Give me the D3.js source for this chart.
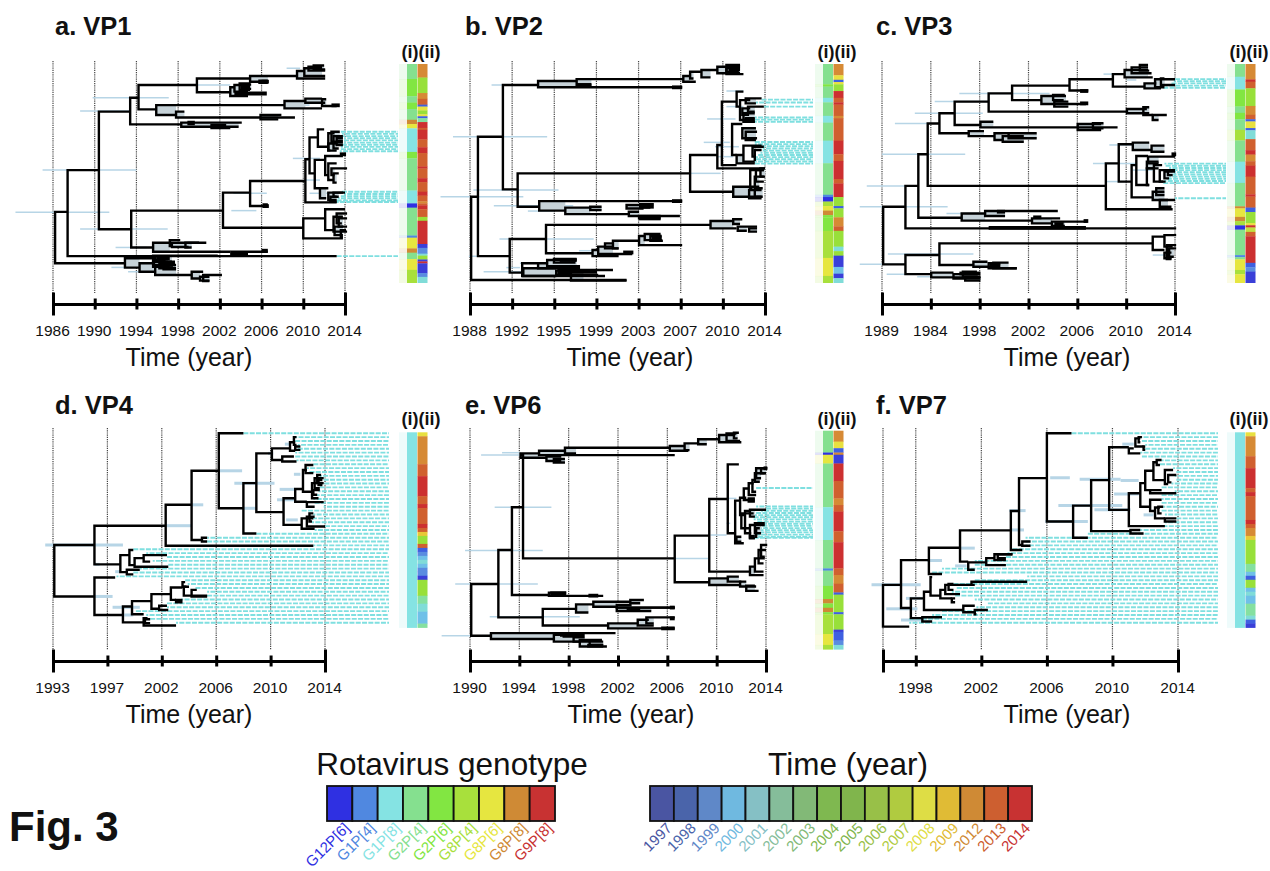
<!DOCTYPE html>
<html>
<head>
<meta charset="utf-8">
<script src="https://cdnjs.cloudflare.com/ajax/libs/d3/7.8.5/d3.min.js"></script>
<style>
	body { margin: 0; background: #fff; }
	text { font-family: "Liberation Sans", Arial, sans-serif; fill: #111; }
</style>
</head>
<body>
<svg id="fig" width="1270" height="871"></svg>
<script>
const genotypes = ["G12P[6]","G1P[4]","G1P[8]","G2P[4]","G2P[6]","G8P[4]","G8P[6]","G8P[8]","G9P[8]"];
const genotypeColors = ["#2f30e2","#5088e0","#85e3e3","#85e08f","#82e642","#a8e03c","#e6e640","#cf8a35","#c83232"];
const years = ["1997","1998","1999","2000","2001","2002","2003","2004","2005","2006","2007","2008","2009","2012","2013","2014"];
const yearColors = ["#4a55a2","#4a64aa","#5f88c8","#6fb9e0","#85c0c5","#85bd9a","#82b977","#7fb850","#80b54c","#98c048","#b0cb40","#dedd45","#e0bb35","#cf8a35","#cd5f30","#c83232"];
const yearStripColors = ["#3a3fd8","#3f60e0","#5a8ce0","#6fc0e8","#80dcd8","#85e0a0","#80e070","#80e040","#90e03c","#98e03a","#c0e040","#e8e040","#e8c838","#d68a35","#d0602f","#cc3030"];

// tree nodes: [time, top row, bottom row, top branch end, bottom branch end]
const vp1Nodes = [[1986.2,67.8,91.5,1987.4,1992.9],[1987.4,48.5,88.2,1990.4,2013.2],[1990.4,21.5,75.8,1993.4,1993.5],[1993.4,15.1,27.4,1994.2,1998.3],[1994.2,9.2,20.5,1999.8,1995.9],[1999.8,6.2,12.6,2004.9,2003],[2004.9,5.1,7.7,2009.4,2006.6],[2009.4,2.8,6.2,2010.1,2012.1],[2010.1,1.5,5.1,2011.8,2012.1],[2010.5,0.8,2.6,2011.8,2012.1],[2011,0.2,2,2012,2012.1],[2005.8,7.2,8.2,2006.6,2006.6],[2003,10.3,14.3,2003.4,2004.7],[2003.4,9.2,12.3,2004.9,2004.7],[2003.9,8.5,11.5,2004.9,2004.9],[2004.4,9,11,2005,2005],[2003.5,12.8,13.5,2006.5,2006.5],[1995.9,18.5,23.1,2008.2,1997.8],[2008.2,16.6,20,2010.2,2011.8],[2010.2,15.5,17.4,2011.8,2012.1],[2011.8,15.8,18.9,2012.2,2013.2],[1997.8,21.5,24.2,1998.6,2009.2],[2005.9,23.1,25.1,2007.9,2007.6],[1998.3,26.6,28.5,2004.1,2003.8],[1999,26.3,27.2,1999.6,1999.6],[2001.2,27.7,29.1,2002.6,2003],[1993.5,67.2,84.2,2002.3,1995.6],[2002.3,58.9,75.1,2004.9,2010],[2004.9,53.5,65.1,2010.2,2006.6],[2010.2,43.5,63.4,2010.6,2013.2],[2010.6,33.4,50,2011.4,2011.1],[2011.4,29.7,37.7,2012,2012.4],[2012.4,31.5,39.4,2013,2012.6],[2012.7,30.8,35.4,2013.5,2013.7],[2012.9,32.8,38.5,2013.8,2013.4],[2013.2,33.8,36.9,2013.8,2013.8],[2012.4,36.2,39.5,2013.2,2013.2],[2011.1,43.8,56.9,2012.1,2011.6],[2012.1,42,50.8,2013.8,2012.4],[2012.4,45.4,53.1,2013.2,2012.9],[2012.7,47.7,50.8,2014.2,2013],[2012.9,50,54.3,2013.4,2013.2],[2011.6,56.9,61.5,2012.4,2012.2],[2012.4,58.9,62.3,2014,2013.2],[2012.6,60.8,63.1,2013.2,2013.2],[2012.9,58.9,60.8,2013.8,2013.4],[2006.2,64.4,65.4,2006.6,2006.6],[2010,70.8,80,2012.1,2013.8],[2012.1,66.6,76.2,2014,2012.9],[2012.9,70,76.9,2013.8,2014.2],[2013.2,68.5,73.1,2014.2,2013.7],[2013.4,70.8,74.6,2014.2,2013.8],[2013,74.6,78.5,2014.2,2013.8],[2013.6,76.2,79.5,2014.1,2013.8],[1995.6,82,86.2,1997.2,2003],[1997.2,80.8,83.5,1998.2,1997.4],[1997.4,82,84,2000,1999],[1998.7,82,84.2,2000.7,1999.3],[2003.1,86.2,87.7,2006.6,2004.7],[1992.9,89.2,93.5,1995.6,1994.3],[1995.6,88,90.8,2001.8,1997.4],[1995.8,88.2,90,1996.9,1996.8],[1996.2,88.8,90.8,1997,1997],[1995.6,90.8,93.1,1997.7,1997.2],[1994.3,91.5,95.4,1995.8,1995.8],[1995.8,92.3,96.9,1997.8,1999.3],[1996.2,91.5,93.8,1997.7,1997.8],[1996.6,92.3,94.3,1997.7,1997.8],[1999.3,95.4,98.5,2000.4,2000.1],[2000.4,96.9,99.7,2002.2,2001],[2000.1,97.7,99.5,2001,2001]];
const vp2Nodes = [[1988.1,60.8,99.2,1988.7,2001.8],[1988.7,33.1,88.2,1990.9,1991.5],[1990.9,9.2,57.4,1994,1992.2],[1994,7.4,10.3,1997.4,2006.7],[1997.4,6.5,9.2,2006.8,1998.7],[2006.8,5.1,7.7,2007.4,2007.9],[2007.4,3.1,6.2,2008.4,2007.7],[2008.4,2.3,5.7,2009.8,2009.2],[2009.8,0.8,3.8,2010.6,2011.8],[2010.6,0,3.1,2011.8,2011.7],[2010.6,1.5,4.2,2011.8,2012.1],[2010.9,0.5,2.3,2011.8,2011.8],[1992.2,50,65.4,2007.4,1994.1],[2007.4,41.5,58.5,2009.8,2011.2],[2009.8,36.9,47.7,2010.2,2014],[2010.2,16.9,46.2,2011.5,2011.5],[2011.5,12.3,19.2,2012.1,2011.8],[2011.8,16.2,25.4,2012.7,2012.3],[2012.3,15.4,17.7,2013.7,2013.2],[2012.5,19.2,21.5,2013.9,2013.1],[2012.1,22.3,26.2,2013.1,2013.1],[2012,20,23,2012.7,2012.6],[2012.3,24.6,26.2,2013.1,2013.1],[2011.1,27.2,41.5,2012,2011.5],[2012,29.2,33.8,2013.2,2013.3],[2012.3,30.8,34.6,2013.3,2013.2],[2011.5,41.5,45.4,2012.1,2013.1],[2012.1,37.2,44.6,2013.7,2013.1],[2012.9,37.7,42.3,2013.9,2013.2],[2013.1,39.2,43.8,2013.7,2013.2],[2011.2,56.2,60.8,2013.1,2013.7],[2012.7,48.5,56.9,2013.9,2012.9],[2013.2,48.5,53.8,2013.9,2013.9],[2013.1,51.5,56.2,2013.9,2013.5],[2013.6,47.7,51.5,2014,2014],[2012.6,57.7,61.5,2013.7,2013.7],[2013.1,56.9,60.8,2013.8,2013.8],[1994.1,62.8,67.2,2006.7,1996.4],[1996.4,65.8,68.8,1998.6,2002],[1998.6,65.4,66.9,1999.6,1999.6],[2001.8,64.6,66.2,2004,2003.3],[2003,64.2,65.8,2004.2,2003.9],[2002,67.7,69.7,2002.9,2006.5],[2002.9,69.7,70.8,2004.8,2004.8],[1991.5,80.3,95.8,1994.7,1992.6],[1994.7,73.8,86.9,2009.2,1998.8],[2009.2,72,75.4,2011.2,2011.5],[2011.2,71.2,73.4,2012,2011.8],[2011.6,74.6,76.5,2013.3,2012.4],[2012.6,75.4,76.9,2013.3,2013.3],[1998.8,85.4,88.2,1999.3,2001.1],[1999.3,83.8,87.2,2000.6,2002.3],[1999.9,82.3,84.6,2000.6,2001.1],[2000.6,81.1,84.6,2002.9,2001.1],[2002.9,78.9,83.1,2003.4,2006.7],[2003.4,78,80.8,2004.8,2004.9],[2003.9,78.9,81.1,2004.9,2005],[1992.6,91.5,97.4,1994,1995.6],[1994,91.5,93.8,1994.8,1997.7],[1994.8,90,92.8,1997.4,1997.7],[1995.4,89.5,91.2,1997.4,1997.3],[1992.7,93.8,97.4,1995.6,1999.9],[1995.6,94.9,96.9,1998,1999.3],[1995.8,94.6,96.2,2000.6,1997],[1996.9,96.9,99.5,1998,2001.8]];
const vp3Nodes = [[1989.1,65.4,92,1991,1991],[1991,55.8,75.4,1992.1,2014.1],[1992.1,41.2,70.5,1992.9,1995.8],[1992.9,27,55.8,1993.9,2008.1],[1993.9,22.3,31.5,1995.2,1996.4],[1995.2,16.9,27.7,1998.1,1997.4],[1998.1,13.1,21.5,2000.1,2009.9],[2000.1,9.5,16.2,2005,2002.6],[2005,6.6,11.8,2008.7,2006.6],[2008.7,4.2,10,2009.7,2011.4],[2009.7,2.3,5.7,2011.7,2012.1],[2010.3,1.1,3.8,2011.7,2012],[2011,0,2.6,2011.7,2011.8],[2011.4,8.5,10.8,2012.4,2012.8],[2012.3,6.6,10.3,2014,2013.1],[2012.8,6.2,9.2,2013.1,2014],[2002.6,14.3,18,2004.7,2006.4],[2003.6,13.8,16.2,2004.6,2004.5],[2003.7,16.9,19.2,2004.9,2004.9],[2009.9,20.3,22.3,2011.6,2011.8],[2011.3,19.5,23.1,2011.8,2012.1],[2012.1,23.1,25.4,2013.3,2012.6],[1997.4,26.2,28.8,1998.5,2009.1],[2005.7,27.2,30,2007.7,2007.7],[2007,26.9,29.2,2007.9,2007.9],[1996.4,30.5,32.8,1997.7,1998.6],[1998.6,31.5,34.6,1999.8,1999.3],[1999.8,31.5,33.8,2002.2,2002.2],[1999.3,32.8,35.4,2001.1,2001.1],[2008.1,45.4,66.6,2009.2,2013.8],[2009.2,36.6,53.8,2010.4,2010.3],[2010.4,35.8,39.2,2011.8,2012],[2012,37.2,40,2013.1,2013.1],[2010.3,46.2,61.1,2010.7,2012.1],[2010.7,42,55.4,2011.7,2011.8],[2011.7,42.3,45.4,2014,2012.6],[2011.6,44.6,47.7,2012.6,2012.6],[2011.6,47.7,55.4,2012.2,2011.8],[2012.2,46.2,53.8,2012.9,2013.2],[2012.7,48.5,53.8,2014,2013],[2013.1,49.2,52.3,2014,2013.5],[2013.4,48.5,50.8,2014,2013.8],[2012.1,58.5,62.3,2013.1,2014],[2012.4,56.9,60,2013.1,2013.1],[2012.7,62.3,65.4,2013.4,2013.7],[1995.8,68.5,71.8,1997.8,2001.8],[1997.8,67.4,69.7,2004,1999.5],[2001.8,70.8,73.1,2004.2,2003.5],[2003.5,72.3,74.3,2006.5,2004.6],[1991,87.7,96.5,1993.9,1993.2],[1993.9,82.3,92.3,2012.1,1996.8],[2012.1,79.2,85.4,2013.1,2013.1],[2013.1,78.5,83.8,2014.1,2013.8],[2013.3,83.1,89.5,2014.1,2013.7],[2013.5,84.6,88.5,2014.1,2013.9],[2013.1,86.6,89.2,2013.7,2013.7],[1996.8,90.8,93.1,1998,1998.9],[1998.1,91.5,93.8,1999.1,2000.5],[1998.5,91.2,93.8,1999.8,2000.5],[1993.2,95.8,98,1995.1,1997.4],[1995.1,96.5,98.5,1997.1,1997.4],[1995.9,95.4,97.7,1997.1,1997.2],[1996.1,97.7,99.5,1997.4,1997.4]];
const vp4Nodes = [[1993.1,28.9,42.2,1996.2,1996.2],[1996.2,23.9,33.9,2001.7,1998.2],[2001.7,18.5,29.1,2003.7,2013.1],[2003.7,9.7,27.6,2005.8,2004.5],[2005.8,0,19.4,2007.7,2007.7],[2007.7,12.9,25.9,2008.7,2008.7],[2008.7,5.2,20.4,2009.9,2010.8],[2009.9,3.9,6.9,2011.3,2010.7],[2011.3,2.3,4.5,2011.7,2011.7],[2011.6,1,3,2011.8,2011.8],[2011.7,3.4,4.3,2012.1,2012.1],[2010.7,6,7.3,2011.6,2011.8],[2010.8,16.8,23.7,2011.7,2012.2],[2011.7,14.4,17.7,2012.3,2012.6],[2012.3,9.5,15.1,2012.6,2013],[2012.5,8.2,10.3,2013.1,2013.1],[2013,12.9,16.8,2013.4,2013.5],[2013.2,11.6,14.2,2013.9,2013.6],[2013.4,10.8,12.9,2013.7,2013.9],[2013.5,12.1,13.4,2013.8,2013.8],[2013.1,14.7,15.9,2013.6,2013.4],[2012.6,17.8,19,2013.9,2013.2],[2012.2,22,24.7,2013.1,2013.2],[2012.6,21.6,24.1,2013.2,2014],[2012.8,20.7,22.8,2013.1,2013],[2004.5,27,28,2004.9,2004.9],[1998.2,31.5,35.9,1998.9,1998.7],[1998.9,30.2,34.1,1999.2,1999.3],[1999.3,32.3,34.5,2000,2001.9],[2000,31.5,33.2,2001.8,2000.5],[1998.7,35.3,36.5,1999.7,1999.2],[1996.2,37.3,47,1997.8,1998.4],[1998.4,44.8,48.9,1999.1,2000],[1999.1,43.4,46.8,2000.6,2000],[2000.6,41.6,45.4,2002.1,2001.2],[2002.1,39.9,43.1,2003,2002.5],[2003,38.5,39.7,2003.2,2003.3],[2003.1,39.7,42,2003.5,2004.9],[2003.7,40.5,42.2,2004.1,2004.9],[2002.5,43.1,43.7,2003,2003],[2001.2,44.6,45.7,2001.8,2001.9],[2000,47.8,49.7,2000.3,2002.5],[2000.1,48.1,49.1,2000.5,2000.5]];
const vp6Nodes = [[1990.1,70.3,94.2,1992.3,1991.7],[1992.3,54.6,85.7,1993.4,1995.9],[1993.4,34.9,75.4,1994.3,1996.4],[1994.3,10.8,58.5,1994.1,2006.6],[1994.1,10,12,1995.6,1996.2],[1995.6,8.8,10.8,1997.7,2006.6],[1997.7,7.4,10,2006.2,1998.6],[2006.2,6.6,8.8,2007.4,2007.7],[2007.4,5.4,8.5,2008.5,2007.8],[2008.5,3.5,5.8,2010.2,2009.2],[2010.2,1.5,4.9,2011.5,2012],[2010.8,0.8,4.3,2011.6,2011.9],[2011.4,0.5,3.1,2011.8,2011.7],[1996.2,11.5,13.5,1997.4,1997.4],[1996.8,12.6,14.2,1997.7,1997.7],[2006.6,48,69.5,2009.4,2009.4],[2009.4,31.1,64.6,2010.9,2012.7],[2010.9,15.1,46.9,2011.8,2011.5],[2011.5,31.8,51.5,2011.9,2012.2],[2011.9,30.5,38.5,2012.4,2012.3],[2012.2,26.2,31.5,2012.6,2013.1],[2012.6,23.8,29.2,2013,2013.2],[2012.9,22.3,27.7,2013.1,2013.2],[2013.1,19.2,23.1,2013.9,2013.5],[2013.2,16.9,21.5,2014.1,2013.6],[2013.6,16.9,19.2,2014.1,2014],[2012.6,30.8,32.3,2013.1,2013.1],[2011.6,48.5,50.8,2012,2012],[2012,37.7,44.6,2013,2012.7],[2012.3,36.6,46.9,2012.7,2012.8],[2012.7,36,39.2,2014,2013.1],[2012.7,43.1,49.2,2013.9,2013.1],[2013.1,42.3,46.9,2013.9,2013.6],[2013.2,44.6,48.5,2013.5,2013.1],[2012.7,62.3,66.2,2013.1,2013.8],[2013.1,58.5,64.6,2013.9,2013.8],[2013.4,54.6,60.8,2014,2013.8],[2013.6,52.3,57.7,2014.1,2013.9],[2009.4,67.7,70.8,2010.9,2011.9],[2010.9,66.9,69.2,2011.8,2012],[2011.9,69.2,71.5,2012.4,2013.2],[2012.4,71.1,73.5,2013.1,2013.4],[1996.4,74.3,75.8,1997.8,2000.8],[1995.9,81.8,89.5,1998.6,2001.2],[1998.6,79.7,83.5,2000,1999.6],[2000,78.5,80.8,2003,2001.9],[2003,77.7,79.2,2004.1,2003.8],[2001.9,80,81.2,2003.1,2006.6],[2001.9,81.2,82.8,2006.6,2004.7],[2001.2,88.5,90.8,2003.6,2006.6],[2003.6,86.8,89.5,2004.5,2004.9],[2004.3,85.7,88.5,2006.6,2004.9],[1991.7,93,95.7,2001.8,1996.8],[1996.8,93.8,96.9,1999.3,1998.9],[1997.6,93.1,94.6,1998.5,1998.5],[1998.9,96.2,99.2,2000.7,2001.1],[1998.4,94.9,96.9,1999.3,1999.7],[1999.7,96.9,98.5,2000.8,2000.8]];
const vp7Nodes = [[1996,39.2,50,1997.1,1997.6],[1997.1,32.8,45.2,1998.8,1997.7],[1998.8,29.6,36.4,2000.7,1999.6],[2000.7,25.1,33.2,2003.8,2001.2],[2003.8,20.1,30.2,2004.3,2004.5],[2004.3,11.6,28.9,2006,2004.5],[2006,0,22.8,2007.5,2007.6],[2007.6,18.7,27,2008.7,2008.5],[2008.7,12.1,25.3,2009.8,2011.1],[2009.8,3.6,19.8,2011,2011],[2011,3.9,5.2,2011.3,2011.7],[2011.4,1.3,3.4,2011.7,2011.9],[2011.6,1,2.3,2011.8,2011.7],[2011.9,3.4,4.3,2012,2012],[2011,15.5,24,2011.7,2013.2],[2011.7,12.9,19,2012,2012.3],[2012,9.7,14.7,2012.5,2012.3],[2012.5,7.5,12.1,2012.7,2013.2],[2012.7,6.9,8.2,2013,2012.9],[2013.2,9.5,13.1,2013.7,2013.4],[2013.4,10.8,12.7,2013.9,2013.6],[2012.3,14.7,15.5,2013,2013.9],[2012.3,17.2,20.1,2013,2012.6],[2012.6,19.2,22,2012.9,2013.2],[2013.2,22,22.8,2013.9,2013.9],[2012.8,19,20.7,2013.1,2013],[2011.1,25,25.9,2011.7,2011.9],[2004.5,28,29.1,2005,2005],[2001.2,33.4,35.3,2002.3,2001.6],[2002.3,32.3,34.1,2002.8,2003.5],[2002.8,31.3,32.8,2003.9,2003.5],[2003,31.3,32.3,2003.9,2003.5],[1997.7,42.7,47.8,1998.5,1998.4],[1998.5,41,45.7,1998.9,2000.9],[1998.9,37.2,42,1999,1999.5],[1999.5,40.5,42.7,1999.8,2000.2],[1999.8,39.2,41.6,2001.4,2000.7],[2000,39,40.5,2000.3,2000.3],[2001.4,38.4,39.2,2004.8,2001.6],[2000.2,42.7,43.7,2000.4,2000.4],[2000.9,44.6,46.3,2001.6,2001.6],[2001.6,45.7,46.8,2002.4,2001.7],[1998.4,47.6,48.7,1999.6,1999]];

// thick clumps of tips: [start, end, row]
const vp1Clumps = [[2006,2006.7,7.7],[2006.3,2006.7,65.1],[2012.7,2013.5,18.6],[2013.5,2014.1,41.2],[2006,2006.6,85.7],[2003.1,2004.7,87.4],[1995.9,1997.2,89.2],[2004,2004.9,10.3],[2001.2,2002.6,28.2],[1996.6,1997.5,92.3],[2013.2,2013.8,35.4]];
const vp2Clumps = [[2005.8,2006.7,10.3],[2005.8,2006.7,62.8],[2003,2004.2,65.4],[2002.9,2004.8,70.8],[1995.9,1997.4,90],[1995.8,1999.2,95.4],[2010.6,2011.8,0.8],[1997.4,1998.7,9.2],[2012.2,2013.1,25.4],[2004,2004.9,80],[2001.5,2002.4,86.5]];
const vp3Clumps = [[2005.9,2006.6,12],[2005.9,2006.6,17.7],[2013.7,2014.1,41.2],[1998.1,2006.4,75.2],[1998.8,1999.5,67.7],[2001.9,2002.6,70.3],[1995.6,1997.4,96.2],[1998.2,1999.1,92.6],[2003.7,2004.5,73.4],[2006.2,2006.6,72]];
const vp4Clumps = [];
const vp6Clumps = [[1996.5,1997.8,74.6],[1999.6,2000.4,75.7],[2006.2,2006.6,81.2],[2005.5,2006.6,90.8],[2006.2,2006.6,86.2],[2002.7,2003.8,82.3],[1997.3,1998.2,93.8],[1999.5,2000.8,98.8],[2013.8,2014.1,16.9],[2012.6,2013.1,48.5]];
const vp7Clumps = [];

// credible interval bars: [start, end, row]
const vp1Hpd = [[1982.4,1991.4,68],[1985,1994,48.5],[1989.8,1997.1,15.1],[1988.6,1993.4,21.2],[1988.6,1997,75.7],[1992,1995,84.2],[2009,2011.6,43.1],[2003.1,2005.5,67.2],[2003.3,2006.5,59.2],[1999.8,2003,9.2],[2008.6,2010.6,18.5],[1991.6,1994.3,93.4],[1993.2,1994.3,95.4],[2008.4,2009.7,1.5],[1996.2,1997.8,20.8],[2010.6,2013.2,59.2],[2010.2,2011.6,53.1]];
const vp2Hpd = [[1986.5,1994.8,33.1],[1985.4,1992.7,60.8],[1988.3,1995.8,57.7],[1989.9,1993.9,9.2],[1990.1,1997.1,65],[1993.1,1995.4,67.4],[1990.6,1998.9,80.3],[1987.9,1991.2,88.2],[1989.2,1993,95.4],[1991.2,1992.4,93.5],[1992.4,1994.2,91.5],[1997.6,1999.2,85.7],[2002.9,2003.8,79.2],[2007.4,2010.1,50],[2010.6,2012.1,12],[2008.9,2011.4,24.9],[2008.6,2010.9,35.7],[2009.6,2011.7,37.7],[2010.6,2012.1,19.2],[2009.8,2011.2,42.3],[2011.4,2013.3,58.5]];
const vp3Hpd = [[1987.1,1994.6,65.4],[1989,1996.1,41.2],[1987.7,1991,55.8],[1990.1,1993,27],[1991.8,1997.6,22.3],[1993.5,1998.1,16.9],[1995.6,2003.3,13.1],[1994.5,1997.4,68.5],[1989.5,1996.8,87.2],[1987.1,1991,92],[1989.4,1992.1,96.6],[1992,1993.7,97.7],[2007,2010.7,45.4],[2008.4,2010.7,36.9],[2007.9,2009.9,4.2],[2009.9,2010.7,6.9],[2012.1,2013.3,87.7],[2010.4,2012.1,48.5],[2008.1,2009.9,53.8]];
const vp4Hpd = [[1992.4,1998.4,28.9],[2005.8,2007.6,9.7],[2007,2010.1,12.9],[2003.7,2004.6,18.5],[2001.7,2003.7,23.9],[2007.7,2008.7,19.4],[2010.5,2011.7,14.5],[2010.3,2011.7,17.2],[2011,2011.9,22.4],[2009.6,2010,5.2],[2010.9,2011.3,2.8],[2011.6,2012.1,10.6],[1997.6,1999.7,45],[1998.5,1999.2,47],[1996.2,1997.6,42.2],[1996.2,1996.6,33.9],[1997.8,1998.2,35.8]];
const vp6Hpd = [[1988.8,1995.5,70.3],[1989.6,1995.9,54.9],[1992,1996.6,34.9],[1990.9,1995.4,10.8],[1992.6,1994.1,9.7],[1991.6,1998.9,85.4],[1987.7,1990,94.2],[1991.6,1994.7,93.8],[2006.6,2009.3,58.5],[2009.5,2010.8,47.7],[2010.8,2011.6,30.8],[2011.4,2011.6,38.5],[2010.8,2011.1,42.3],[1995.7,1997,94.6]];
const vp7Hpd = [[1995.3,1998.3,39.2],[1996.2,1998.1,45.4],[1997.1,1998.4,48.3],[1997.4,1998.4,42.7],[1998.7,1999.6,32.9],[2000.4,2001.1,34.3],[2000.7,2001.6,29.7],[2003.7,2004.7,20],[2003.8,2004.6,25],[2006.2,2007.4,11.5],[2008,2010.5,11.9],[2006.7,2010.6,18.7],[2008.9,2011.1,19.8],[2005.9,2008.5,22.8],[2010.1,2011.6,15.7],[2010.5,2011.6,12.2],[2010.6,2011.3,2.8],[2011.9,2012.5,21.1]];

// dashed leader lines: [row, tip time]
const vp1Dashes = [[30.8,2013.6],[31.8,2013.7],[32.8,2013.5],[33.8,2013.9],[34.8,2013.9],[35.8,2013.9],[36.8,2013.7],[37.8,2013.6],[38.8,2013.6],[39.8,2013.5],[58.5,2013.7],[59.5,2013.9],[60.5,2013.6],[61.5,2013.3],[62.5,2013.2],[63.2,2013.2],[88.2,2013.2]];
const vp2Dashes = [[16,2013.7],[17.3,2013.2],[19.2,2013.9],[24.2,2013.1],[25.2,2013.1],[26.2,2013.1],[35.5,2013.1],[36.5,2013.1],[37.5,2013.6],[38.5,2013.8],[39.5,2013.8],[40.5,2013.6],[41.5,2013.4],[42.5,2013.2],[43.5,2013.2],[44.5,2013.1],[45.5,2013.1]];
const vp3Dashes = [[6.5,2014],[7.5,2013.9],[8.5,2013.7],[9.5,2013.2],[10.5,2013],[45.5,2013.1],[46.5,2013.2],[47.5,2013.5],[48.5,2013.8],[49.5,2013.9],[50.5,2013.7],[51.5,2013.5],[52.5,2013.3],[53.5,2013.1],[54.5,2013],[61.5,2014]];
const vp4Tips = [2007.7,2011.7,2011.7,2011.9,2011.9,2011.7,2011.7,2011.8,2013.1,2012.6,2012.8,2013.6,2013.9,2013.7,2013.6,2013.5,2013.2,2013.1,2013.2,2013.9,2012.2,2013.1,2013,2013,2014,2013.2,2008.7,2004.9,2004.9,2013.1,1999.2,2000.2,2001.8,2000.7,2001.9,1999.7,1999.2,1997.9,2003.2,2003.4,2004,2004.9,2004.9,2002.9,2001.8,2001.8,1999.4,2000.2,2000.5,2002.5];
const vp6Dashes = [[26,2013.2],[34.5,2013.2],[35.5,2014],[36.5,2013.6],[37.5,2013.2],[38.5,2013.1],[39.5,2013],[40.5,2013],[41.5,2013.3],[42.5,2013.9],[43.5,2013.7],[44.5,2013.5],[45.5,2013.4],[46.5,2013.2],[47.5,2013.1],[48.5,2013.1],[49,2013]];
const vp7Tips = [2007.5,2011.7,2011.8,2012,2012,2011.7,2011.8,2013,2012.9,2013.7,2013.9,2013.8,2013.9,2013.6,2013,2013.8,2013,2013,2013,2013.1,2013,2013.2,2013.9,2013.2,2011.9,2011.7,2008.5,2004.7,2004.7,2004.7,2003.9,2003.6,2003.5,2001.6,2001.6,1999.6,1999,2004.8,2001.6,2000.1,2000.5,2000.2,2000.4,2001.6,2002.4,2001.7,1999.6,1999,1997.6,1997.6];

// strips as runs: [category index, number of samples]
const vp1Genotype = [[3,7],[4,8],[3,3],[4,3],[3,5],[7,2],[6,2],[2,11],[4,3],[3,15],[2,6],[0,2],[3,13],[1,1],[6,5],[7,2],[3,3],[6,5],[5,6]];
const vp1Year = [[13,7],[9,8],[13,3],[14,3],[1,1],[11,2],[9,2],[11,1],[1,1],[5,2],[15,3],[14,1],[15,5],[14,4],[15,3],[14,7],[15,1],[14,5],[15,2],[14,5],[15,2],[14,3],[13,1],[14,1],[15,2],[14,4],[9,2],[15,12],[0,2],[2,3],[4,1],[9,2],[0,1],[15,1],[0,5],[2,2],[4,3]];
const vp2Genotype = [[3,9],[4,1],[3,5],[2,2],[3,6],[2,3],[3,8],[2,10],[3,14],[1,1],[0,2],[5,2],[6,2],[7,2],[4,1],[4,6],[5,12],[6,8],[5,3]];
const vp2Year = [[13,5],[11,2],[1,1],[11,1],[9,3],[15,3],[14,2],[15,1],[14,5],[13,1],[14,10],[15,6],[14,3],[15,8],[14,2],[15,6],[9,4],[1,1],[9,4],[13,4],[14,2],[9,7],[4,2],[9,2],[0,5],[3,3],[0,2],[4,2]];
const vp3Genotype = [[3,6],[2,6],[4,8],[3,3],[4,3],[3,5],[5,5],[3,10],[2,10],[3,11],[7,1],[6,4],[7,2],[5,2],[0,2],[3,12],[1,1],[3,1],[6,5],[5,2],[6,4]];
const vp3Year = [[13,7],[15,1],[14,3],[9,8],[13,4],[14,2],[1,1],[11,3],[1,1],[4,4],[14,5],[15,2],[13,3],[14,2],[15,5],[14,8],[15,1],[14,5],[1,2],[9,5],[11,1],[15,1],[10,2],[14,2],[15,12],[1,2],[2,2],[0,5]];
const vp4Year = [[11,1],[13,7],[14,3],[15,5],[14,2],[15,1],[14,4],[15,1],[14,1],[12,1],[9,2],[14,1],[1,1],[2,1],[3,1],[4,1],[3,1],[2,1],[2,1],[0,1],[9,4],[5,2],[4,2],[3,3],[5,1]];
const vp6Genotype = [[3,10],[0,1],[6,4],[3,20],[2,15],[3,13],[1,1],[3,7],[4,6],[7,2],[4,2],[7,2],[4,1],[5,9],[6,5],[5,2]];
const vp6Year = [[13,5],[11,3],[1,2],[13,1],[0,4],[15,8],[14,8],[13,3],[14,3],[15,9],[14,5],[15,12],[14,3],[13,4],[14,4],[1,1],[9,8],[1,1],[9,7],[0,1],[1,4],[2,2],[4,2]];
const vp7Year = [[11,1],[13,5],[14,3],[15,5],[14,1],[15,1],[14,6],[15,1],[14,1],[13,2],[12,1],[9,6],[5,2],[3,1],[1,1],[9,2],[3,1],[4,1],[3,2],[5,3],[4,1],[1,1],[0,1]];
const allG1P8 = [[2,50]];

const vp1Ticks = ["1986","1990","1994","1998","2002","2006","2010","2014"];
const vp2Ticks = ["1988","1992","1995","1999","2003","2007","2010","2014"];
const vp3Ticks = ["1989","1984","1998","2002","2006","2010","2014"];
const vp4Ticks = ["1993","1997","2002","2006","2010","2014"];
const vp6Ticks = ["1990","1994","1998","2002","2006","2010","2014"];
const vp7Ticks = ["","1998","2002","2006","2010","2014"];
const vp7TickYears = [1996,1998,2002,2006,2010,2014];

const panels = [
	{title:"a. VP1",titleX:55,titleY:35,timeX:189,nodes:vp1Nodes,clumps:vp1Clumps,hpd:vp1Hpd,dashes:vp1Dashes,gt:vp1Genotype,yr:vp1Year,ticks:vp1Ticks,span:[1986,2014],px:[53,345],rows:[100,65,281.7],headY:52,gridTop:61,axisY:304,stripX:407,dashEnd:398,hpdW:1.5},
	{title:"b. VP2",titleX:465,titleY:35,timeX:630,nodes:vp2Nodes,clumps:vp2Clumps,hpd:vp2Hpd,dashes:vp2Dashes,gt:vp2Genotype,yr:vp2Year,ticks:vp2Ticks,span:[1988,2014],px:[470,765],rows:[100,65,281.7],headY:52,gridTop:61,axisY:304,stripX:823,dashEnd:813,hpdW:1.5},
	{title:"c. VP3",titleX:876,titleY:35,timeX:1067,nodes:vp3Nodes,clumps:vp3Clumps,hpd:vp3Hpd,dashes:vp3Dashes,gt:vp3Genotype,yr:vp3Year,ticks:vp3Ticks,span:[1989,2014],px:[882,1175],rows:[100,65,281.7],headY:52,gridTop:61,axisY:304,stripX:1235,dashEnd:1226,hpdW:1.5},
	{title:"d. VP4",titleX:55,titleY:414,timeX:189,nodes:vp4Nodes,clumps:vp4Clumps,hpd:vp4Hpd,dashes:vp4Tips.map((t,i)=>[i,t]),gt:allG1P8,yr:vp4Year,ticks:vp4Ticks,span:[1993,2014],px:[53,325],rows:[50,433.3,626.6],headY:419,gridTop:428,axisY:661,stripX:407,dashEnd:389,hpdW:3},
	{title:"e. VP6",titleX:465,titleY:414,timeX:631,nodes:vp6Nodes,clumps:vp6Clumps,hpd:vp6Hpd,dashes:vp6Dashes,gt:vp6Genotype,yr:vp6Year,ticks:vp6Ticks,span:[1990,2014],px:[470,766],rows:[100,431.7,648.3],headY:419,gridTop:428,axisY:661,stripX:823,dashEnd:813,hpdW:1.5},
	{title:"f. VP7",titleX:876,titleY:414,timeX:1067,nodes:vp7Nodes,clumps:vp7Clumps,hpd:vp7Hpd,dashes:vp7Tips.map((t,i)=>[i,t]),gt:allG1P8,yr:vp7Year,ticks:vp7Ticks,tickYears:vp7TickYears,span:[1996,2014],px:[883,1178],rows:[50,433.3,626.6],headY:419,gridTop:428,axisY:661,stripX:1235,dashEnd:1218,hpdW:3}
];

const svg = d3.select("#fig");

function drawStrip(g, runs, x, w, yTop, yBot, colors, opacity){
	const ends = d3.cumsum(runs, d => d[1]);
	const y = d3.scaleLinear([0, ends[ends.length-1]], [yTop, yBot]);
	g.selectAll(null).data(runs).join("rect")
		.attr("x", x).attr("width", w)
		.attr("y", (d,i) => y(ends[i]-d[1]))
		.attr("height", d => y(d[1])-y(0)+0.3)
		.attr("fill", d => colors[d[0]])
		.attr("opacity", opacity);
}

panels.forEach(p => {
	const g = svg.append("g");
	const x = d3.scaleLinear(p.span, p.px);
	const y = d3.scaleLinear([0, p.rows[0]], [p.rows[1], p.rows[2]]);
	const n = p.ticks.length;
	const tickVals = p.tickYears || d3.range(n).map(i => p.span[0]+(p.span[1]-p.span[0])*i/(n-1));

	g.append("text").text(p.title)
		.attr("x", p.titleX).attr("y", p.titleY)
		.attr("font-size", 25.5).attr("font-weight", "bold");
	g.append("text").text("(i)(ii)")
		.attr("x", p.stripX+14).attr("y", p.headY+6).attr("text-anchor", "middle")
		.attr("font-size", 18).attr("font-weight", "bold");

	// dotted year grid
	g.selectAll(null).data(tickVals).join("line")
		.attr("x1", d => x(d)).attr("x2", d => x(d))
		.attr("y1", p.gridTop).attr("y2", p.axisY-11)
		.attr("stroke", "#444").attr("stroke-width", 1.2).attr("stroke-dasharray", "1.2 1");

	g.selectAll(null).data(p.hpd).join("line")
		.attr("x1", d => x(d[0])).attr("x2", d => x(d[1]))
		.attr("y1", d => y(d[2])).attr("y2", d => y(d[2]))
		.attr("stroke", "#b7d5e6").attr("stroke-width", p.hpdW);

	g.selectAll(null).data(p.dashes).join("line")
		.attr("x1", d => x(d[1])).attr("x2", p.dashEnd)
		.attr("y1", d => y(d[0])).attr("y2", d => y(d[0]))
		.attr("stroke", "#7fdfe0").attr("stroke-width", 1.9)
		.attr("stroke-dasharray", "5 1.3")
		.attr("stroke-dashoffset", (d,i) => i%2*3);

	// narrow elbows read as grey boxes, only the overlap between both branches
	if(p.hpdW < 2){
		g.selectAll(null).data(p.nodes.filter(d => d[2]-d[1] < 5)).join("rect")
			.attr("x", d => x(d[0]))
			.attr("width", d => x(Math.min(d[3],d[4]))-x(d[0]))
			.attr("y", d => y(d[1]))
			.attr("height", d => y(d[2])-y(d[1]))
			.attr("fill", "#c6d2d8");
	}
	const elbow = d => `M${x(d[3])},${y(d[1])}H${x(d[0])}V${y(d[2])}H${x(d[4])}`;
	g.selectAll(null).data(p.nodes).join("path")
		.attr("d", elbow)
		.attr("fill", "none").attr("stroke", "#000").attr("stroke-width", 2.4);
	g.selectAll(null).data(p.clumps).join("line")
		.attr("x1", d => x(d[0])).attr("x2", d => x(d[1]))
		.attr("y1", d => y(d[2])).attr("y2", d => y(d[2]))
		.attr("stroke", "#000").attr("stroke-width", 3.8);

	drawStrip(g, p.gt, p.stripX-8, 8, p.rows[1]-1, p.rows[2]+1, genotypeColors, 0.14);
	drawStrip(g, p.gt, p.stripX, 10, p.rows[1]-1, p.rows[2]+1, genotypeColors, 1);
	drawStrip(g, p.yr, p.stripX+10.5, 10, p.rows[1]-1, p.rows[2]+1, yearStripColors, 1);

	// time axis
	const axis = d3.axisBottom(x).tickValues(tickVals).tickSizeOuter(0)
		.tickFormat((d,i) => p.ticks[i]);
	const ag = g.append("g").attr("transform", `translate(0,${p.axisY})`).call(axis);
	ag.select(".domain").attr("stroke", "#000").attr("stroke-width", 3);
	ag.selectAll(".tick line").attr("stroke", "#000").attr("stroke-width", 3)
		.attr("y1", (d,i) => i==0||i==n-1 ? -11.5 : -5.5)
		.attr("y2", (d,i) => i==0||i==n-1 ? 11.5 : 5.5);
	ag.selectAll(".tick text").attr("x", -1).attr("y", 32).attr("dy", 0)
		.attr("font-size", 15.5).attr("font-family", "Liberation Sans");

	g.append("text").text("Time (year)")
		.attr("x", p.timeX)
		.attr("y", p.axisY+62).attr("text-anchor", "middle").attr("font-size", 25);
});

// legends
const gx = d3.scaleBand(genotypes, [327, 555]);
const yx = d3.scaleBand(years, [650, 1032]);

function drawLegend(scale, names, colors, title, cx){
	const g = svg.append("g");
	g.append("text").text(title).attr("x", cx).attr("y", 775)
		.attr("text-anchor", "middle").attr("font-size", 31.5);
	g.selectAll(null).data(names).join("rect")
		.attr("x", d => scale(d)).attr("y", 786)
		.attr("width", scale.bandwidth()).attr("height", 35)
		.attr("fill", (d,i) => colors[i])
		.attr("stroke", "#111").attr("stroke-width", 1.8);
	g.selectAll(null).data(names).join("text").text(d => d)
		.attr("text-anchor", "end").attr("font-size", 15)
		.attr("transform", d => `translate(${scale(d)+scale.bandwidth()/2+11},${829}) rotate(-45)`)
		.style("fill", (d,i) => colors[i]);
}
drawLegend(gx, genotypes, genotypeColors, "Rotavirus genotype", 452);
drawLegend(yx, years, yearColors, "Time (year)", 848);

svg.append("text").text("Fig. 3").attr("x", 9).attr("y", 841)
	.attr("font-size", 42).attr("font-weight", "bold");
</script>
</body>
</html>
